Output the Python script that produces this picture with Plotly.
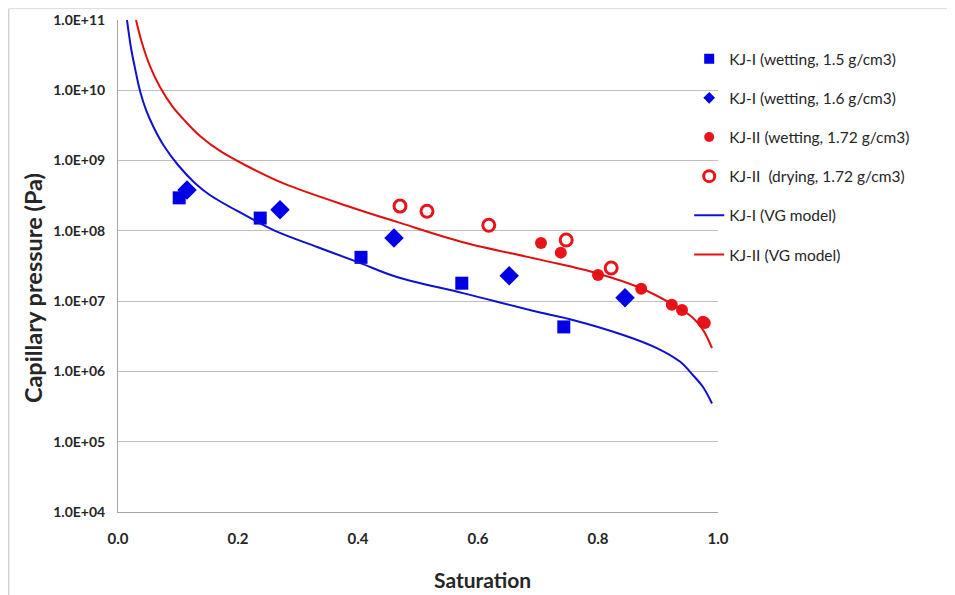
import plotly.graph_objects as go

# --- data ---
kj1_15_s = [0.102, 0.237, 0.405, 0.573, 0.743]
kj1_15_p = [2.95e8, 1.52e8, 4.2e7, 1.8e7, 4.3e6]

kj1_16_s = [0.115, 0.270, 0.460, 0.652, 0.845]
kj1_16_p = [3.8e8, 2.0e8, 7.9e7, 2.3e7, 1.12e7]

kj2_wet_s = [0.705, 0.738, 0.800, 0.872, 0.923, 0.940, 0.975, 0.978]
kj2_wet_p = [6.7e7, 4.9e7, 2.35e7, 1.5e7, 8.9e6, 7.5e6, 5.1e6, 4.9e6]

kj2_dry_s = [0.470, 0.515, 0.618, 0.747, 0.822]
kj2_dry_p = [2.25e8, 1.9e8, 1.2e8, 7.4e7, 2.96e7]

vg1_s = [0.015, 0.0217, 0.0283, 0.0367, 0.0467, 0.060, 0.0767, 0.100, 0.128,
         0.153, 0.208, 0.262, 0.332, 0.403, 0.465, 0.575, 0.700, 0.758, 0.842,
         0.898, 0.937, 0.958, 0.975, 0.99]
vg1_p = [1e11, 4.0e10, 2.07e10, 9.8e9, 5.25e9, 2.91e9, 1.61e9, 8.65e8, 4.8e8,
         3.24e8, 1.74e8, 1.0e8, 5.9e7, 3.5e7, 2.2e7, 1.3e7, 7.0e6, 5.4e6, 3.3e6,
         2.15e6, 1.37e6, 8.9e5, 6.0e5, 3.5e5]

vg2_s = [0.030, 0.040, 0.0533, 0.070, 0.090, 0.1117, 0.1367, 0.170, 0.2117, 0.278,
         0.387, 0.465, 0.575, 0.703, 0.798, 0.870, 0.925, 0.958, 0.975, 0.99]
vg2_p = [1e11, 4.7e10, 2.2e10, 1.11e10, 6.0e9, 3.66e9, 2.24e9, 1.37e9, 8.65e8, 4.65e8,
         2.19e8, 1.34e8, 6.9e7, 3.9e7, 2.5e7, 1.55e7, 8.9e6, 5.8e6, 3.9e6, 2.15e6]

series_names = ["KJ-I (wetting, 1.5 g/cm3)", "KJ-I (wetting, 1.6 g/cm3)",
                "KJ-II (wetting, 1.72 g/cm3)", "KJ-II  (drying, 1.72 g/cm3)",
                "KJ-I (VG model)", "KJ-II (VG model)"]

ytick_vals = [1e4, 1e5, 1e6, 1e7, 1e8, 1e9, 1e10, 1e11]
ytick_text = ["1.0E+04", "1.0E+05", "1.0E+06", "1.0E+07", "1.0E+08",
              "1.0E+09", "1.0E+10", "1.0E+11"]
xtick_vals = [0.0, 0.2, 0.4, 0.6, 0.8, 1.0]
xtick_text = ["0.0", "0.2", "0.4", "0.6", "0.8", "1.0"]

BLUE = "#0000e6"
RED = "#e8141c"
TXT = "#262626"

marker_styles = [
    dict(symbol="square", color=BLUE),
    dict(symbol="diamond", color=BLUE),
    dict(symbol="circle", color=RED),
    dict(symbol="circle-open", color=RED, line=dict(width=3, color=RED)),
]
plot_sizes = [13, 15, 12, 12]
legend_sizes = [10, 9, 10, 11]
marker_data = [(kj1_15_s, kj1_15_p), (kj1_16_s, kj1_16_p),
               (kj2_wet_s, kj2_wet_p), (kj2_dry_s, kj2_dry_p)]

fig = go.Figure()
groups = ["a", "b", "c", "d", "e", "f"]
for i, (xs, ys) in enumerate(marker_data):
    fig.add_trace(go.Scatter(x=xs, y=ys, mode="markers", name=series_names[i],
                             legendgroup=groups[i], showlegend=False,
                             marker=dict(size=plot_sizes[i], **marker_styles[i])))
    # legend entry with the smaller legend symbol
    fig.add_trace(go.Scatter(x=[None], y=[None], mode="markers", name=series_names[i],
                             legendgroup=groups[i], showlegend=True,
                             marker=dict(size=legend_sizes[i], **marker_styles[i])))

fig.add_trace(go.Scatter(x=vg1_s, y=vg1_p, mode="lines",
                         line_shape="spline", name=series_names[4], legendgroup="e",
                         line=dict(color="#1010d0", width=2, smoothing=1.0)))
fig.add_trace(go.Scatter(x=vg2_s, y=vg2_p, mode="lines",
                         line_shape="spline", name=series_names[5], legendgroup="f",
                         line=dict(color="#e01010", width=2, smoothing=1.0)))

fig.update_layout(
    width=947, height=587,
    paper_bgcolor="white", plot_bgcolor="white",
    margin=dict(l=110, r=237, t=12, b=83, autoexpand=False),
    font=dict(family="Lato, 'Open Sans', sans-serif", color=TXT),
    legend=dict(x=0.952, y=0.955, xanchor="left", yanchor="top",
                xref="paper", yref="paper",
                font=dict(size=15.5, color=TXT),
                traceorder="grouped", tracegroupgap=16,
                bgcolor="rgba(0,0,0,0)"),
    shapes=[
        dict(type="line", xref="paper", yref="paper", x0=-0.182, x1=-0.182,
             y0=-0.2, y1=1.023, line=dict(color="#bfbfbf", width=1)),
        dict(type="line", xref="paper", yref="paper", x0=-0.182, x1=1.4,
             y0=1.023, y1=1.023, line=dict(color="#d9d9d9", width=1)),
    ],
    annotations=[
        dict(text="<b>Capillary pressure (Pa)</b>", textangle=-90,
             xref="paper", yref="paper", x=-0.1417, y=0.455,
             xanchor="center", yanchor="middle", showarrow=False,
             font=dict(size=23.5, color=TXT)),
        dict(text="<b>Saturation</b>",
             xref="paper", yref="paper", x=0.608, y=-0.138,
             xanchor="center", yanchor="middle", showarrow=False,
             font=dict(size=21, color=TXT)),
    ],
)

fig.update_xaxes(range=[0, 1], tickvals=xtick_vals, ticktext=xtick_text,
                 showgrid=False, showline=True, linecolor="#a6a6a6",
                 linewidth=1, ticks="", zeroline=False, ticklabelstandoff=13,
                 automargin=False,
                 tickfont=dict(size=15, family="Lato", color=TXT, weight="bold"))
fig.update_yaxes(type="log", range=[4, 11], tickvals=ytick_vals, ticktext=ytick_text,
                 showgrid=True, gridcolor="#bfbfbf", gridwidth=1,
                 showline=True, linecolor="#a6a6a6", linewidth=1, ticks="",
                 zeroline=False, ticklabelstandoff=9, automargin=False,
                 tickfont=dict(size=14, family="Lato", color=TXT, weight="bold"))

fig.write_html("out.html")
